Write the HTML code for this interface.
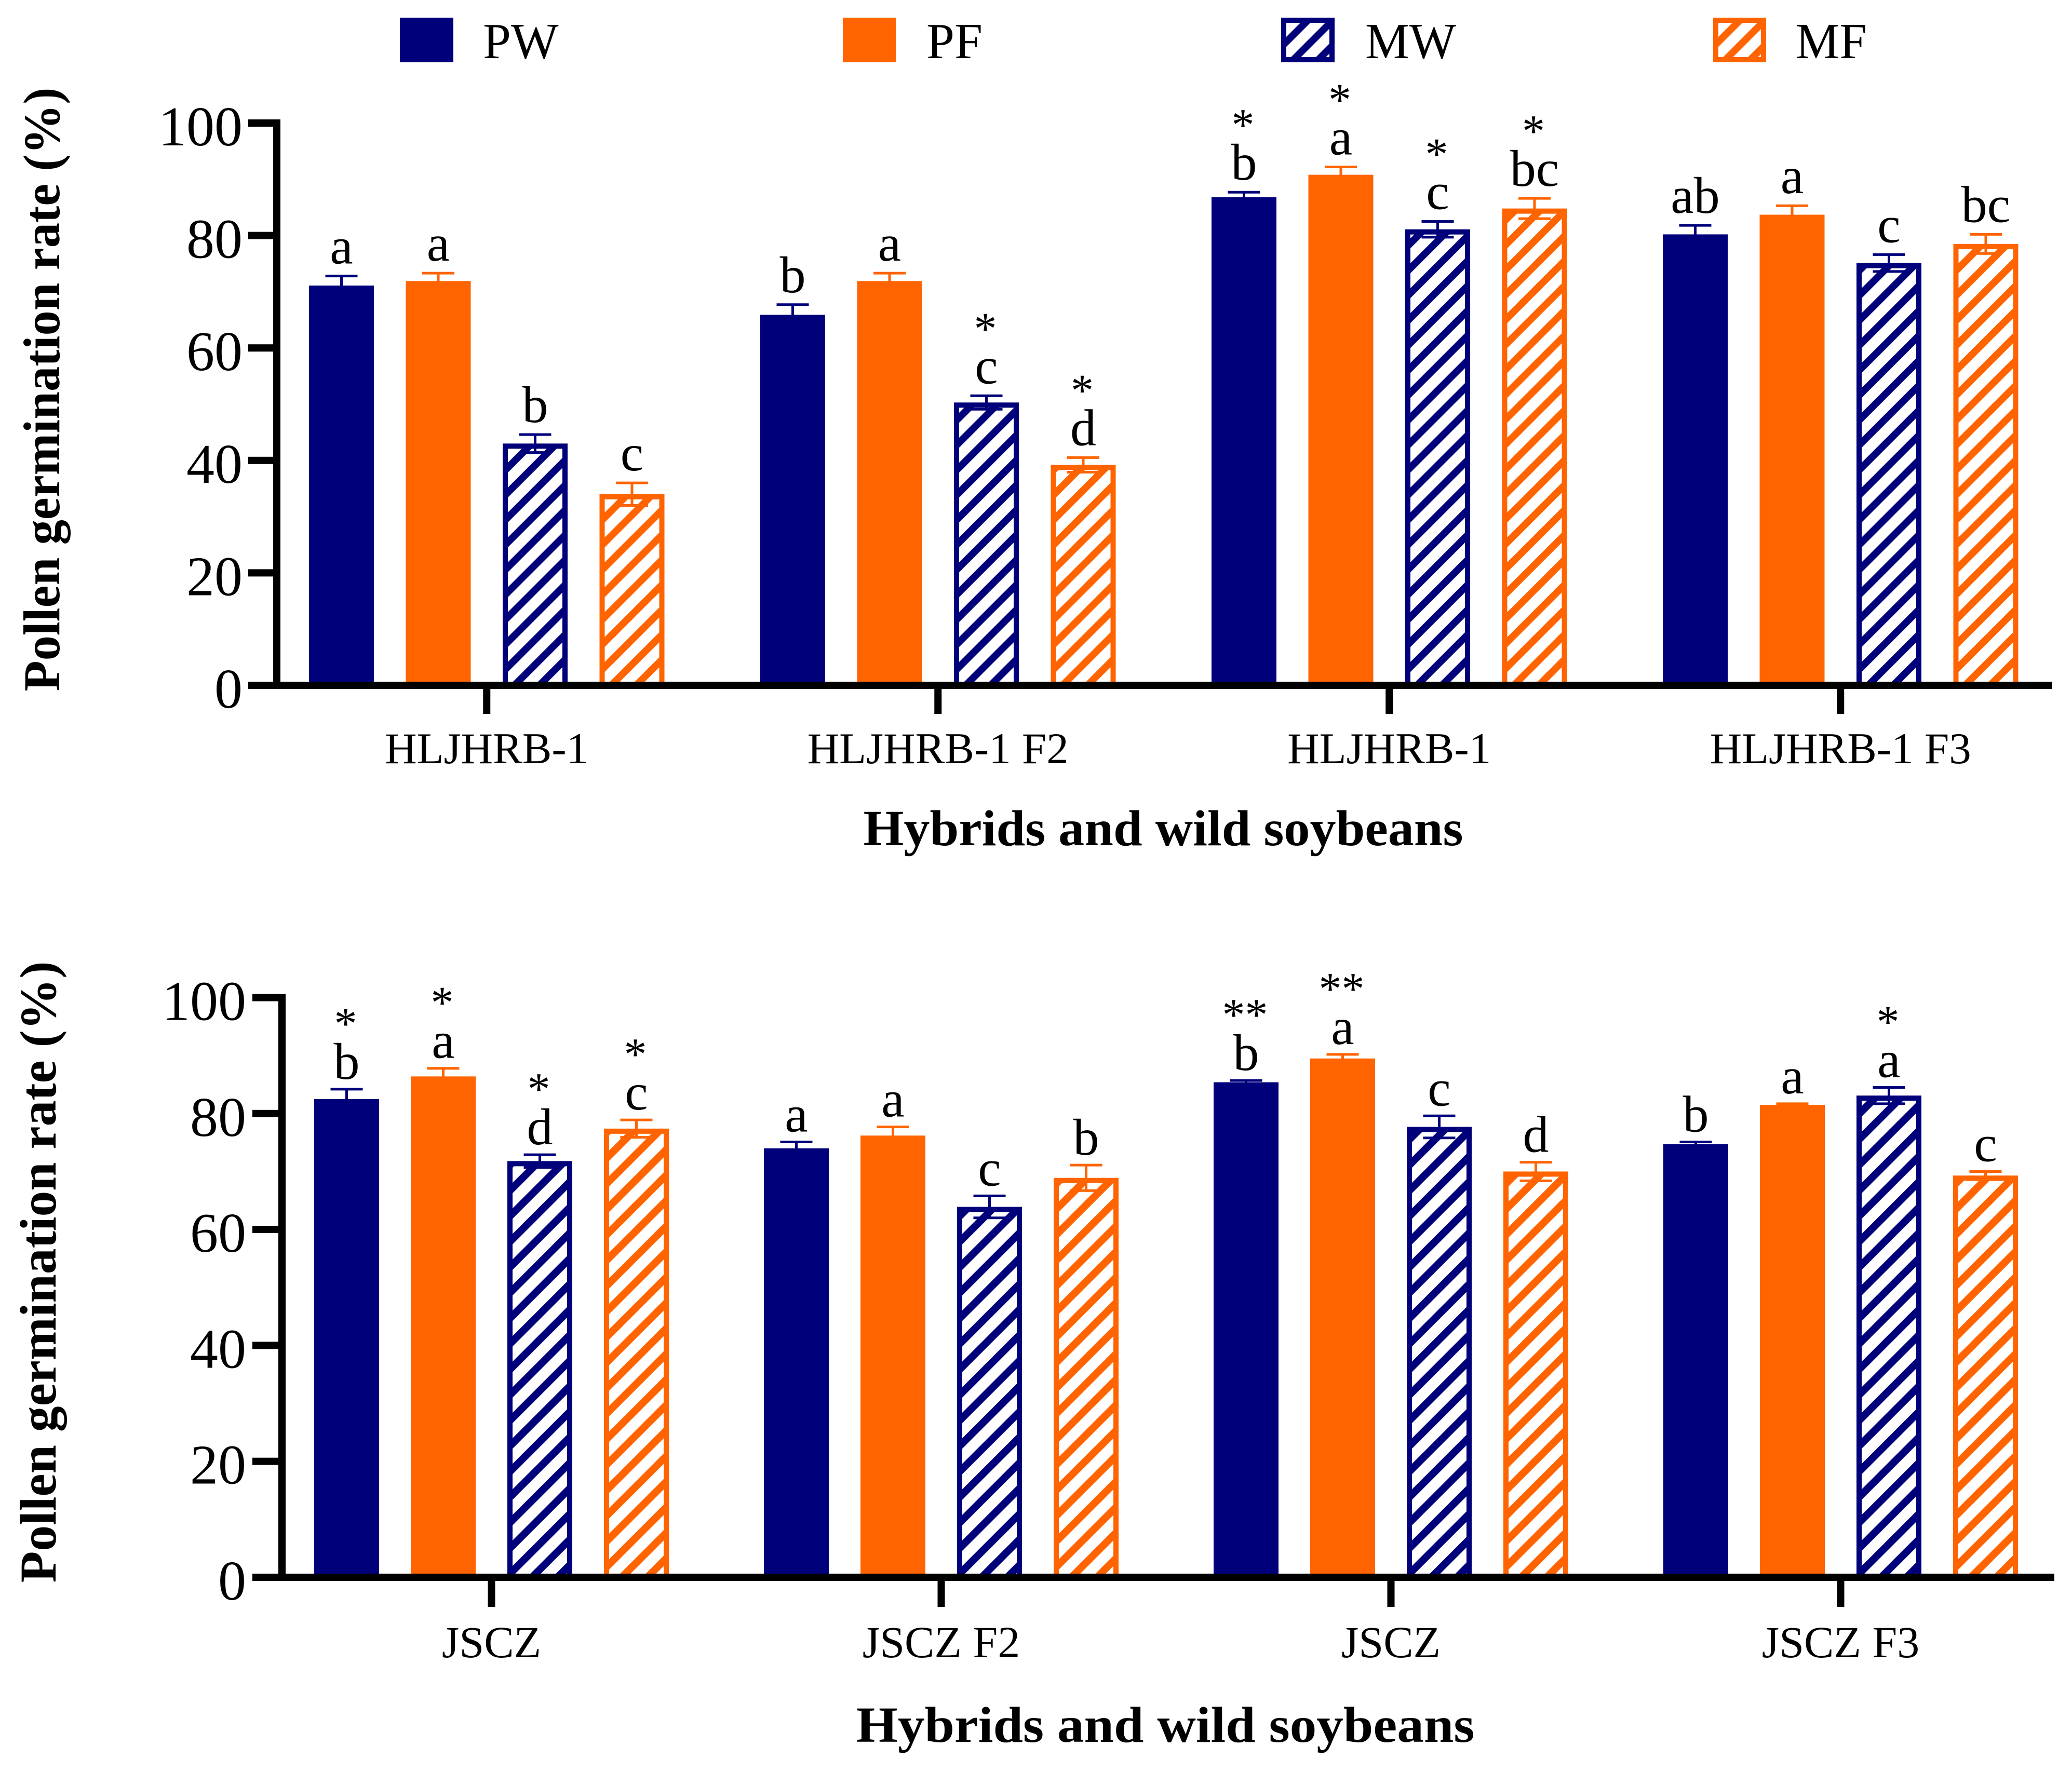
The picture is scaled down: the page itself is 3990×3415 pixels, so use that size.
<!DOCTYPE html>
<html lang="en">
<head>
<meta charset="utf-8">
<title>Pollen germination rate</title>
<style>
html,body{margin:0;padding:0;background:#fff;}
svg{display:block;}
text{font-family:"Liberation Serif",serif;fill:#000;}
</style>
</head>
<body>
<svg id="figure" xmlns="http://www.w3.org/2000/svg" width="3990" height="3415" viewBox="0 0 3990 3415">
  <defs>
    <pattern id="hatch-navy-top" patternUnits="userSpaceOnUse" x="14.14" width="33.94" height="33.94" patternTransform="rotate(45)">
      <rect width="33.94" height="33.94" fill="#fff"/>
      <rect width="13.6" height="33.94" fill="#00007a"/>
    </pattern>
    <pattern id="hatch-orange-top" patternUnits="userSpaceOnUse" x="14.14" width="33.94" height="33.94" patternTransform="rotate(45)">
      <rect width="33.94" height="33.94" fill="#fff"/>
      <rect width="13.6" height="33.94" fill="#ff6400"/>
    </pattern>
    <pattern id="hatch-navy-bottom" patternUnits="userSpaceOnUse" x="-3.39" width="34.79" height="34.79" patternTransform="rotate(45)">
      <rect width="34.79" height="34.79" fill="#fff"/>
      <rect width="14.2" height="34.79" fill="#00007a"/>
    </pattern>
    <pattern id="hatch-orange-bottom" patternUnits="userSpaceOnUse" x="-12.7" width="34.79" height="34.79" patternTransform="rotate(45)">
      <rect width="34.79" height="34.79" fill="#fff"/>
      <rect width="14.2" height="34.79" fill="#ff6400"/>
    </pattern>
  </defs>
  <rect width="3990" height="3415" fill="#fff"/>
  <g>
    <g>
      <rect x="770" y="34" width="103" height="86" fill="#00007a"/>
      <text x="930" y="112" font-size="97">PW</text>
    </g>
    <g>
      <rect x="1623" y="34" width="102" height="86" fill="#ff6400"/>
      <text x="1784" y="112" font-size="97">PF</text>
    </g>
    <g>
      <rect transform="translate(2467 109)" x="5" y="-70" width="93" height="76" fill="url(#hatch-navy-top)" stroke="#00007a" stroke-width="10"/>
      <text x="2629" y="112" font-size="97" textLength="175" lengthAdjust="spacingAndGlyphs">MW</text>
    </g>
    <g>
      <rect transform="translate(3299 109)" x="5" y="-70" width="92" height="76" fill="url(#hatch-orange-top)" stroke="#ff6400" stroke-width="10"/>
      <text x="3458" y="112" font-size="97" textLength="137" lengthAdjust="spacingAndGlyphs">MF</text>
    </g>
  </g>
  <g id="chart-top"></g>
  <g id="chart-bottom"></g>
</svg>
<script>
// ---- shared data ----
const yTickLabels = [0, 20, 40, 60, 80, 100];
const seriesNames = ['PW', 'PF', 'MW', 'MF'];

// ---- top chart data ----
const topCategories = ['HLJHRB-1', 'HLJHRB-1 F2', 'HLJHRB-1', 'HLJHRB-1 F3'];
const topPW = [71.1, 65.9, 86.8, 80.2];
const topPF = [71.9, 71.9, 90.8, 83.7];
const topMW = [43.0, 50.3, 81.1, 75.1];
const topMF = [34.0, 39.2, 84.8, 78.5];
const topPWErr = [1.7, 1.8, 0.9, 1.6];
const topPFErr = [1.4, 1.4, 1.4, 1.6];
const topMWErr = [1.6, 1.2, 1.4, 1.5];
const topMFErr = [2.0, 1.3, 1.8, 1.7];
const topPWLetters = ['a', 'b', 'b', 'ab'];
const topPFLetters = ['a', 'a', 'a', 'a'];
const topMWLetters = ['b', 'c', 'c', 'c'];
const topMFLetters = ['c', 'd', 'bc', 'bc'];
const topPWStars = ['', '', '*', ''];
const topPFStars = ['', '', '*', ''];
const topMWStars = ['', '*', '*', ''];
const topMFStars = ['', '*', '*', ''];

// ---- bottom chart data ----
const bottomCategories = ['JSCZ', 'JSCZ F2', 'JSCZ', 'JSCZ F3'];
const bottomPW = [82.5, 74.0, 85.4, 74.7];
const bottomPF = [86.4, 76.2, 89.5, 81.5];
const bottomMW = [71.8, 63.9, 77.7, 83.1];
const bottomMF = [77.4, 68.9, 70.0, 69.3];
const bottomPWErr = [1.7, 1.1, 0.3, 0.4];
const bottomPFErr = [1.4, 1.5, 0.7, 0.2];
const bottomMWErr = [1.1, 1.9, 1.9, 1.4];
const bottomMFErr = [1.5, 2.2, 1.6, 0.7];
const bottomPWLetters = ['b', 'a', 'b', 'b'];
const bottomPFLetters = ['a', 'a', 'a', 'a'];
const bottomMWLetters = ['d', 'c', 'c', 'a'];
const bottomMFLetters = ['c', 'b', 'd', 'c'];
const bottomPWStars = ['*', '', '**', ''];
const bottomPFStars = ['*', '', '**', ''];
const bottomMWStars = ['*', '', '', '*'];
const bottomMFStars = ['*', '', '', ''];

const NS = 'http://www.w3.org/2000/svg';
const seriesColors = ['#00007a', '#ff6400', '#00007a', '#ff6400'];

function mk(tag, attrs, parent, content) {
  const el = document.createElementNS(NS, tag);
  for (const k in attrs) el.setAttribute(k, attrs[k]);
  if (content !== undefined) el.textContent = content;
  parent.appendChild(el);
  return el;
}

function drawChart(root, cfg) {
  const yPos = v => cfg.yZero - v * cfg.yScale;
  const barLeft = (g, s) => cfg.firstBar + g * cfg.groupStep + s * cfg.barStep;
  const groupCenter = g => barLeft(g, 0) + (3 * cfg.barStep + cfg.barW) / 2;

  cfg.values.forEach((vals, s) => {
    vals.forEach((v, g) => {
      const x = barLeft(g, s);
      const top = yPos(v);
      const bottom = yPos(0);
      const color = seriesColors[s];
      const cx = x + cfg.barW / 2;
      const err = cfg.errors[s][g];
      const group = mk('g', {}, root);
      
      

      let bar;
      if (cfg.hatch[s]) {
        const inner = bottom - cfg.axisW / 2;
        bar = mk('rect', {transform: 'translate(' + x + ' ' + inner + ')', x: 5, y: top + 5 - inner, width: cfg.barW - 10, height: bottom - top - 5, fill: cfg.hatch[s], stroke: color, 'stroke-width': 10}, group);
      } else {
        bar = mk('rect', {x: x, y: top, width: cfg.barW, height: bottom - top, fill: color}, group);
      }
      
      

      const upper = yPos(v + err);
      const lower = yPos(v - err);
      const ew = mk('path', {d: 'M' + (cx - 31) + ' ' + upper + 'H' + (cx + 31) + 'M' + cx + ' ' + upper + 'V' + lower + 'M' + (cx - 31) + ' ' + lower + 'H' + (cx + 31), stroke: color, 'stroke-width': 5, fill: 'none'}, group);
      
      

      const letterY = upper - cfg.letterGap;
      const lt = mk('text', {x: cx, y: letterY, 'font-size': cfg.letterSize, 'text-anchor': 'middle'}, group, cfg.letters[s][g]);
      
      

      if (cfg.stars[s][g]) {
        const st = mk('text', {x: cx - 2, y: letterY - cfg.starGap + 40, 'font-size': 88, 'text-anchor': 'middle'}, group, cfg.stars[s][g]);
        
        
      }
    });
  });

  // y axis
  const yAxis = mk('g', {}, root);
  
  
  const yLine = mk('rect', {x: cfg.axisX, y: yPos(100) - cfg.axisW / 2, width: cfg.axisW, height: yPos(0) - yPos(100) + cfg.axisW, fill: '#000'}, yAxis);
  
  
  yTickLabels.forEach(t => {
    const tick = mk('rect', {x: cfg.tickLeft, y: yPos(t) - cfg.axisW / 2, width: cfg.axisX - cfg.tickLeft + 1, height: cfg.axisW, fill: '#000'}, yAxis);
    
    
    const lbl = mk('text', {x: cfg.tickLeft - cfg.labelGap, y: yPos(t) + 43, 'font-size': 108, 'text-anchor': 'end'}, yAxis, String(t));
    
    
  });
  const yTitle = mk('text', {transform: 'translate(' + cfg.yTitleX + ' ' + cfg.yTitleY + ') rotate(-90)', 'font-size': 100, 'font-weight': 'bold', 'text-anchor': 'middle', textLength: cfg.yTitleLen, lengthAdjust: 'spacingAndGlyphs'}, yAxis, 'Pollen germination rate (%)');
  
  

  // x axis
  const xAxis = mk('g', {}, root);
  
  
  const xLine = mk('rect', {x: cfg.tickLeft, y: yPos(0) - cfg.axisW / 2, width: cfg.axisRight - cfg.tickLeft, height: cfg.axisW, fill: '#000'}, xAxis);
  
  
  cfg.categories.forEach((c, g) => {
    const tx = groupCenter(g);
    const tick = mk('rect', {x: tx - 7, y: yPos(0), width: 14, height: cfg.xTickLen, fill: '#000'}, xAxis);
    
    
    const lbl = mk('text', {x: tx, y: yPos(0) + cfg.catOffset, 'font-size': cfg.catSize, 'text-anchor': 'middle'}, xAxis, c);
    
    
  });
  const xTitle = mk('text', {x: cfg.xTitleX, y: cfg.xTitleY, 'font-size': 97, 'font-weight': 'bold', 'text-anchor': 'middle', textLength: cfg.xTitleLen, lengthAdjust: 'spacingAndGlyphs'}, xAxis, 'Hybrids and wild soybeans');
  
  
}

drawChart(document.getElementById('chart-top'), {
  categories: topCategories,
  values: [topPW, topPF, topMW, topMF],
  errors: [topPWErr, topPFErr, topMWErr, topMFErr],
  letters: [topPWLetters, topPFLetters, topMWLetters, topMFLetters],
  stars: [topPWStars, topPFStars, topMWStars, topMFStars],
  hatch: [null, null, 'url(#hatch-navy-top)', 'url(#hatch-orange-top)'],
  yZero: 1320, yScale: 10.83,
  firstBar: 595, groupStep: 869, barStep: 186.5, barW: 125,
  axisX: 526, axisW: 14, tickLeft: 478, axisRight: 3952, xTickLen: 55, labelGap: 11,
  letterGap: 24, letterSize: 100, starGap: 116,
  catOffset: 150, catSize: 85,
  yTitleX: 114, yTitleY: 750, yTitleLen: 1163,
  xTitleX: 2240, xTitleY: 1628, xTitleLen: 1155
});

drawChart(document.getElementById('chart-bottom'), {
  categories: bottomCategories,
  values: [bottomPW, bottomPF, bottomMW, bottomMF],
  errors: [bottomPWErr, bottomPFErr, bottomMWErr, bottomMFErr],
  letters: [bottomPWLetters, bottomPFLetters, bottomMWLetters, bottomMFLetters],
  stars: [bottomPWStars, bottomPFStars, bottomMWStars, bottomMFStars],
  hatch: [null, null, 'url(#hatch-navy-bottom)', 'url(#hatch-orange-bottom)'],
  yZero: 3038, yScale: 11.165,
  firstBar: 605, groupStep: 866, barStep: 186, barW: 125,
  axisX: 536, axisW: 14, tickLeft: 486, axisRight: 3956, xTickLen: 57, labelGap: 12,
  letterGap: 20, letterSize: 100, starGap: 117,
  catOffset: 154, catSize: 86,
  yTitleX: 107, yTitleY: 2450, yTitleLen: 1197,
  xTitleX: 2244, xTitleY: 3355, xTitleLen: 1191
});
</script>
</body>
</html>
